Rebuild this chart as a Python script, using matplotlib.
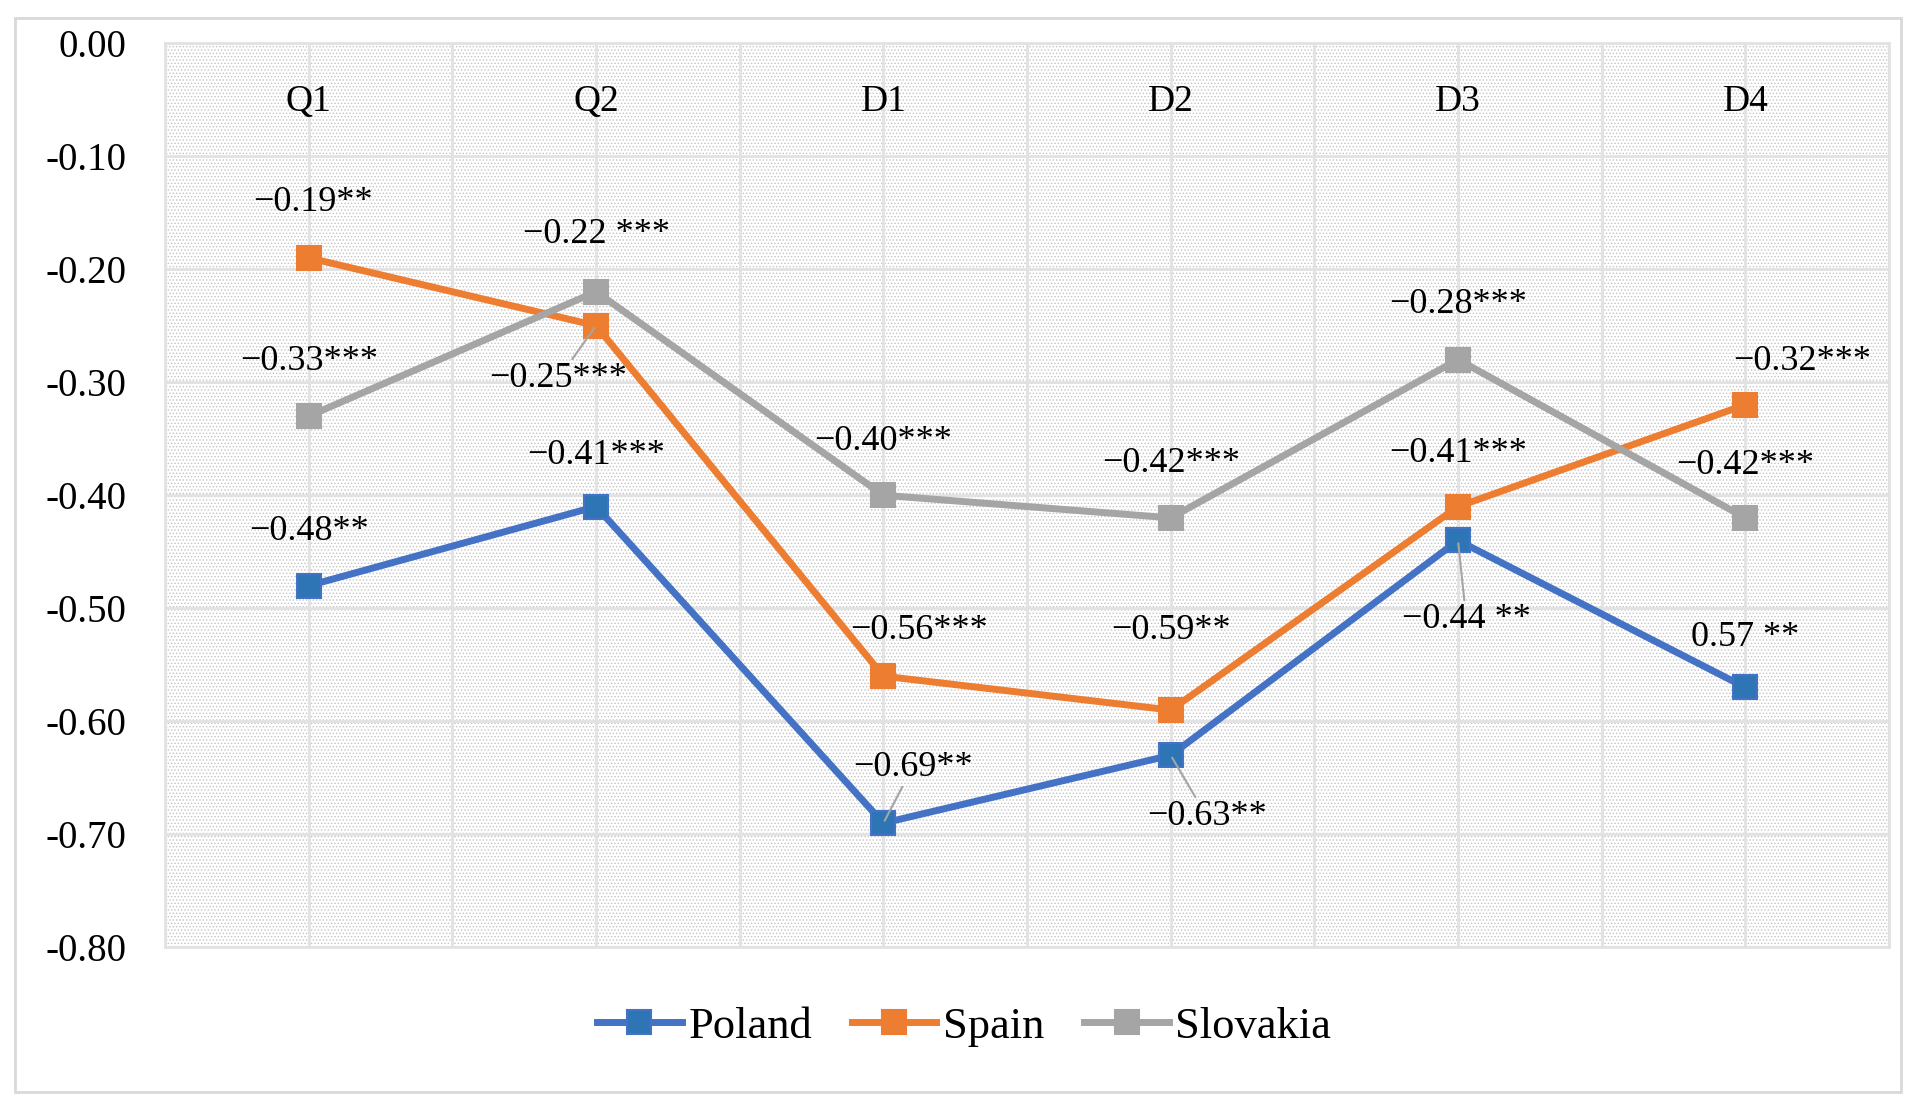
import numpy as np
import matplotlib.pyplot as plt
from matplotlib.patches import Rectangle

plt.rcParams['font.family'] = ['Liberation Serif', 'DejaVu Serif']
plt.rcParams['hatch.color'] = '#c4c4c4'
plt.rcParams['hatch.linewidth'] = 0.6

categories = ['Q1', 'Q2', 'D1', 'D2', 'D3', 'D4']
series_names = ['Poland', 'Spain', 'Slovakia']
poland = [-0.48, -0.41, -0.69, -0.63, -0.44, -0.57]
spain = [-0.19, -0.25, -0.56, -0.59, -0.41, -0.32]
slovakia = [-0.33, -0.22, -0.40, -0.42, -0.28, -0.42]

poland_labels = ['\u22120.48**', '\u22120.41***', '\u22120.69**', '\u22120.63**', '\u22120.44 **', '0.57 **']
spain_labels = ['\u22120.19**', '\u22120.25***', '\u22120.56***', '\u22120.59**', '\u22120.41***', '\u22120.32***']
slovakia_labels = ['\u22120.33***', '\u22120.22 ***', '\u22120.40***', '\u22120.42***', '\u22120.28***', '\u22120.42***']

yticks = [0.0, -0.1, -0.2, -0.3, -0.4, -0.5, -0.6, -0.7, -0.8]

# label offsets in points, and which labels get a leader line
poland_off = [(0, 39), (0, 37), (21, 40), (26, -44), (6, -57), (0, 36)]
spain_off = [(3, 40), (-27, -38), (26, 33), (0, 57), (0, 38), (41, 31)]
slovakia_off = [(0, 39), (0, 41), (0, 39), (0, 39), (0, 40), (0, 38)]
poland_lead = [False, False, True, True, True, False]
spain_lead = [False, True, False, False, False, False]
slovakia_lead = [False] * 6

colors = ['#4472C4', '#ED7D31', '#A5A5A5']
faces = ['#2E75B6', '#ED7D31', '#A5A5A5']

fig = plt.figure(figsize=(19.17, 11.03), dpi=100)
ax = fig.add_axes([0.0861, 0.141, 0.8993, 0.820])

x = np.arange(len(categories))
ax.set_xlim(-0.5, len(categories) - 0.5)
ax.set_ylim(-0.8, 0.0)

# dotted plot-area background
ax.add_patch(Rectangle((0, 0), 1, 1, transform=ax.transAxes, facecolor='white',
                       hatch='.....', edgecolor='#c4c4c4', lw=0, zorder=0))

ax.set_yticks(yticks)
ax.set_yticklabels(['%.2f' % v for v in yticks], family='Liberation Serif')
ax.set_xticks(x)
ax.set_xticklabels(categories)
ax.set_xticks(np.arange(-0.5, len(categories)), minor=True)
ax.xaxis.tick_top()
ax.tick_params(axis='x', which='both', length=0, pad=-55, labelsize=27)
ax.tick_params(axis='y', length=0, pad=28, labelsize=28)
ax.grid(axis='x', which='both', color='#e2e2e2', lw=2, zorder=1)
ax.grid(axis='y', which='major', color='#e2e2e2', lw=2, zorder=1)
ax.set_axisbelow(True)
for s in ax.spines.values():
    s.set_color('#e2e2e2')
    s.set_linewidth(2)

all_vals = [poland, spain, slovakia]
all_labels = [poland_labels, spain_labels, slovakia_labels]
all_off = [poland_off, spain_off, slovakia_off]
all_lead = [poland_lead, spain_lead, slovakia_lead]

handles = []
for i, name in enumerate(series_names):
    ln, = ax.plot(x, all_vals[i], color=colors[i], lw=5, marker='s', ms=17,
                  mfc=faces[i], mec=colors[i], mew=1.5, label=name, zorder=3)
    handles.append(ln)

for i in range(len(series_names)):
    for j in range(len(categories)):
        kw = {}
        if all_lead[i][j]:
            kw['arrowprops'] = dict(arrowstyle='-', color='#a5a5a5', lw=1.5,
                                    shrinkA=0, shrinkB=2)
        ax.annotate(all_labels[i][j], (x[j], all_vals[i][j]),
                    xytext=all_off[i][j], textcoords='offset points',
                    ha='center', va='center', fontsize=26, zorder=4, **kw)

fig.legend(handles=handles, loc='center', bbox_to_anchor=(0.503, 0.069), ncol=3,
           frameon=False, fontsize=32, handlelength=1.9, handletextpad=0.15,
           columnspacing=0.9)

fig.patches.append(Rectangle((15 / 1917, 1 - 1092 / 1103), 1886 / 1917, 1074 / 1103,
                             transform=fig.transFigure, fill=False,
                             edgecolor='#d9d9d9', lw=2))

fig.savefig('out.png', dpi=100)
